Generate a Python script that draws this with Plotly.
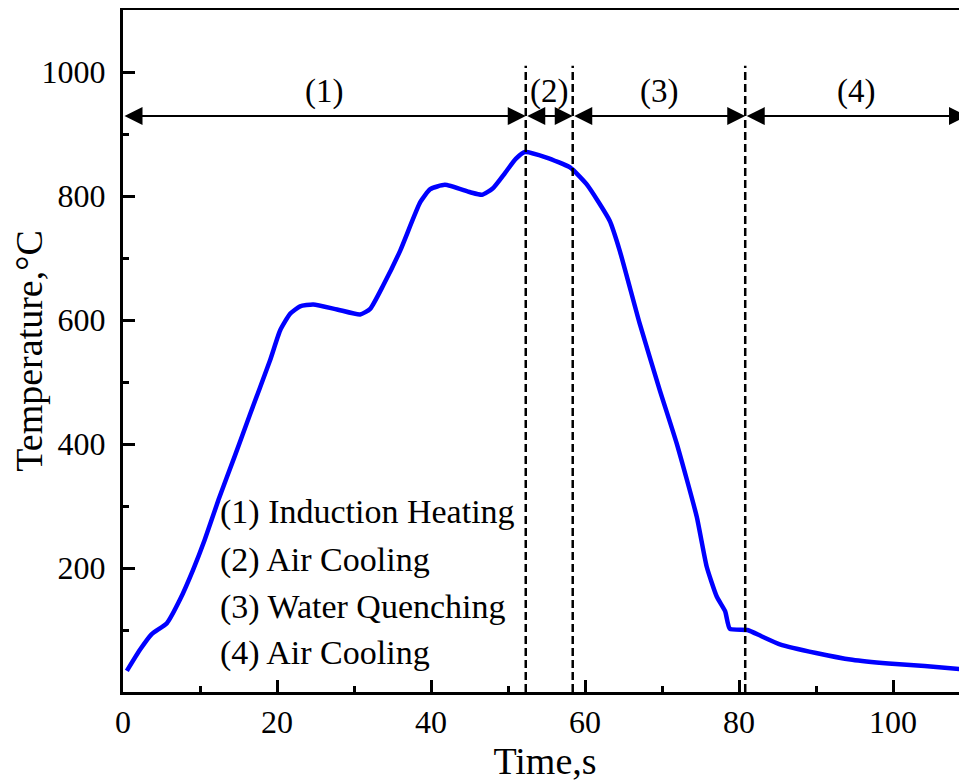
import plotly.graph_objects as go

# Temperature curve (time in s, temperature in °C)
time_s = [0.5, 2.2, 3.7, 5.7, 7.4, 9.1, 10.6, 12.4, 14.5, 16.5, 19.1, 20.4, 21.7, 23.0, 24.7,
          27.8, 30.8, 32.1, 33.8, 36.0, 38.6, 39.9, 41.8, 45.1, 46.6, 48.0, 49.6, 51.0, 52.2,
          55.0, 58.05, 60.2, 63.2, 64.5, 67.1, 69.7, 71.9, 74.5, 75.8, 77.1, 78.2, 78.8,
          81.1, 82.9, 85.3, 90.0, 94.7, 99.4, 104.1, 109.6]
temp_c = [34, 68, 93, 111, 149, 197, 245, 310, 380, 448, 535, 583, 610, 622, 625,
          617, 609, 618, 656, 712, 790, 811, 818, 806, 802, 812, 837, 860, 871,
          862, 846, 819, 760, 712, 594, 487, 401, 283, 202, 154, 130, 102,
          100, 90, 77, 63, 52, 46, 42, 36]

# Stage boundaries (s)
boundaries = [0, 52.3, 58.4, 80.8, 109.6]
stage_labels = ["(1)", "(2)", "(3)", "(4)"]
legend_lines = ["(1) Induction Heating", "(2) Air Cooling", "(3) Water Quenching", "(4) Air Cooling"]
legend_y = [290, 213, 137, 63]
arrow_y = 929
label_y = 968
dash_top = 1010

FONT = "Liberation Serif"

fig = go.Figure()
fig.add_trace(go.Scatter(x=time_s, y=temp_c, mode="lines",
                         line=dict(color="#0000FF", width=4.5, shape="spline", smoothing=0.5),
                         showlegend=False))

# vertical dashed lines at inner boundaries
for b in boundaries[1:-1]:
    fig.add_shape(type="line", x0=b, x1=b, y0=0, y1=dash_top, xref="x", yref="y",
                  line=dict(color="black", width=2.5, dash="8px,4px"))

# double-headed arrows and stage labels
for i in range(len(stage_labels)):
    a, b = boundaries[i], boundaries[i + 1]
    fig.add_annotation(x=b, y=arrow_y, ax=a, ay=arrow_y, xref="x", yref="y",
                       axref="x", ayref="y", text="", showarrow=True,
                       arrowhead=2, arrowside="end+start", arrowsize=1.8,
                       arrowwidth=2, arrowcolor="black", standoff=0, startstandoff=0)
    fig.add_annotation(x=(a + b) / 2, y=label_y, xref="x", yref="y", text=stage_labels[i],
                       showarrow=False, font=dict(family=FONT, size=33, color="black"))

for txt, yy in zip(legend_lines, legend_y):
    fig.add_annotation(x=12.4, y=yy, xref="x", yref="y", text=txt, showarrow=False,
                       xanchor="left", yanchor="middle",
                       font=dict(family=FONT, size=34, color="black"))

fig.update_layout(
    width=959, height=776,
    margin=dict(l=115, r=0, t=2, b=92),
    paper_bgcolor="white", plot_bgcolor="white",
    font=dict(family=FONT, size=32, color="black"),
    xaxis=dict(range=[0, 109.6], tickvals=[0, 20, 40, 60, 80, 100],
               ticks="inside", ticklen=12, tickwidth=3, tickcolor="black",
               showline=True, linewidth=3, linecolor="black", mirror=True,
               showgrid=False, zeroline=False, ticklabelstandoff=0,
               minor=dict(tickvals=[10, 30, 50, 70, 90], ticks="inside", ticklen=6,
                          tickwidth=3, tickcolor="black", showgrid=False),
               title=dict(text="Time,s", font=dict(family=FONT, size=38), standoff=8)),
    yaxis=dict(range=[0, 1100], tickvals=[200, 400, 600, 800, 1000],
               ticks="inside", ticklen=12, tickwidth=3, tickcolor="black",
               showline=True, linewidth=3, linecolor="black", mirror=False,
               showgrid=False, zeroline=False, ticklabelstandoff=8,
               minor=dict(tickvals=[100, 300, 500, 700, 900], ticks="inside", ticklen=6,
                          tickwidth=3, tickcolor="black", showgrid=False),
               title=dict(text="Temperature,°C", font=dict(family=FONT, size=38), standoff=0)),
)

fig.write_html("out.html")
